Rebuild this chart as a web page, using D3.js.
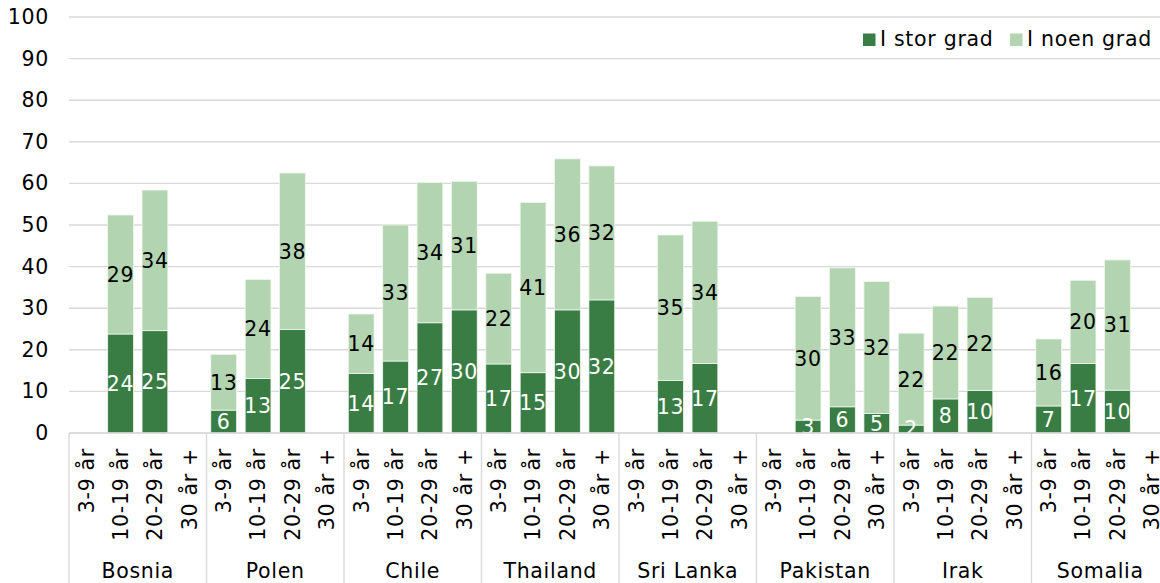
<!DOCTYPE html>
<html>
<head>
<meta charset="utf-8">
<script src="https://cdn.jsdelivr.net/npm/d3@7"></script>
<style>
  html, body { margin: 0; padding: 0; background: #fff; }
  svg { display: block; font-family: "DejaVu Sans", Verdana, sans-serif; }
  text { letter-spacing: 0.7px; }
</style>
</head>
<body>
<svg id="chart" width="1160" height="583"></svg>
<script>
const countries = ["Bosnia", "Polen", "Chile", "Thailand", "Sri Lanka", "Pakistan", "Irak", "Somalia"];
const ageGroups = ["3-9 år", "10-19 år", "20-29 år", "30 år +"];
const seriesNames = ["I stor grad", "I noen grad"];
// values per country, in ageGroups order (null = no bar)
const storGrad = [
  [null, 23.8, 24.6, null],
  [5.5, 13.1, 24.9, null],
  [14.3, 17.3, 26.5, 29.6],
  [16.6, 14.5, 29.6, 32.0],
  [null, 12.6, 16.7, null],
  [null, 3.1, 6.3, 4.7],
  [1.9, 8.2, 10.2, null],
  [6.5, 16.7, 10.3, null]
];
const noenGrad = [
  [null, 28.6, 33.8, null],
  [13.4, 23.8, 37.6, null],
  [14.3, 32.7, 33.7, 30.9],
  [21.8, 40.9, 36.3, 32.2],
  [null, 35.0, 34.2, null],
  [null, 29.7, 33.4, 31.7],
  [22.1, 22.3, 22.4, null],
  [16.1, 20.0, 31.3, null]
];
const yTicks = [0, 10, 20, 30, 40, 50, 60, 70, 80, 90, 100];

(function () {
const colors = ["#3a7d44", "#b3d4b1"];
const svg = d3.select("#chart");
const FONT = 20.5;

const pL = 69, pR = 1169, pT = 17, pB = 433;
const slots = [];
countries.forEach((c, ci) => ageGroups.forEach((a, ai) => slots.push({
  key: c + "|" + a, country: c, age: a,
  s: storGrad[ci][ai], n: noenGrad[ci][ai]
})));

const x = d3.scaleBand().domain(slots.map(d => d.key)).range([pL, pR]).paddingInner(0.25).paddingOuter(0.125);
const y = d3.scaleLinear().domain([0, 100]).range([pB, pT]);

// gridlines
svg.append("g").selectAll("line").data(yTicks).join("line")
  .attr("x1", pL).attr("x2", pR)
  .attr("y1", d => y(d)).attr("y2", d => y(d))
  .attr("stroke", "#d9d9d9").attr("stroke-width", 1.4);

// y axis labels
const yAxis = d3.axisLeft(y).tickValues(yTicks).tickSize(0).tickPadding(0);
const yg = svg.append("g").attr("transform", `translate(${pL - 20},0)`).call(yAxis);
yg.select(".domain").remove();
yg.selectAll("text").attr("font-size", FONT).attr("fill", "#000")
  .attr("font-family", "DejaVu Sans, Verdana, sans-serif");

// bars
const stackData = slots.map(d => ({ ...d, segs: [
  { v0: 0, v1: d.s ?? 0, val: d.s, i: 0 },
  { v0: d.s ?? 0, v1: (d.s ?? 0) + (d.n ?? 0), val: d.n, i: 1 }
]}));

svg.append("defs").append("clipPath").attr("id", "plotclip")
  .append("rect").attr("x", pL).attr("y", pT - 5).attr("width", pR - pL).attr("height", pB - pT + 5);

const barsG = svg.append("g");
stackData.forEach(d => {
  d.segs.forEach(seg => {
    if (seg.val == null) return;
    barsG.append("rect")
      .attr("x", x(d.key)).attr("width", x.bandwidth())
      .attr("y", y(seg.v1)).attr("height", y(seg.v0) - y(seg.v1))
      .attr("fill", colors[seg.i]).attr("stroke", "#eef5ee").attr("stroke-width", 0.8);
  });
});

// data labels
const labG = svg.append("g").attr("clip-path", "url(#plotclip)");
stackData.forEach(d => {
  d.segs.forEach(seg => {
    if (seg.val == null) return;
    labG.append("text")
      .attr("x", x(d.key) + x.bandwidth() / 2)
      .attr("y", y((seg.v0 + seg.v1) / 2))
      .attr("text-anchor", "middle").attr("dy", "0.36em")
      .attr("font-size", FONT)
      .attr("fill", seg.i === 0 ? "#fff" : "#000")
      .text(Math.round(seg.val));
  });
});

// baseline
svg.append("line").attr("x1", pL).attr("x2", pR).attr("y1", pB).attr("y2", pB)
  .attr("stroke", "#d9d9d9").attr("stroke-width", 1.4);

// age group labels (rotated)
const step = x.step();
svg.append("g").selectAll("text").data(slots).join("text")
  .attr("transform", d => `translate(${x(d.key) + x.bandwidth() / 2},448) rotate(-90)`)
  .attr("text-anchor", "end").attr("dy", "0.36em")
  .attr("font-size", FONT).attr("fill", "#000")
  .text(d => d.age);

// group separators and country labels
const groupW = step * ageGroups.length;
const sepXs = d3.range(countries.length + 1).map(i => pL + i * groupW);
svg.append("g").selectAll("line").data(sepXs).join("line")
  .attr("x1", d => d).attr("x2", d => d).attr("y1", pB).attr("y2", 583)
  .attr("stroke", "#d9d9d9").attr("stroke-width", 1.4);
svg.append("g").selectAll("text").data(countries).join("text")
  .attr("x", (d, i) => pL + (i + 0.5) * groupW)
  .attr("y", 578).attr("text-anchor", "middle")
  .attr("font-size", FONT).attr("fill", "#000").text(d => d);

// legend
const legend = svg.append("g");
const legX = [863, 1010];
seriesNames.forEach((name, i) => {
  legend.append("rect").attr("x", legX[i]).attr("y", 33.5).attr("width", 12.5).attr("height", 12.5).attr("fill", colors[i]);
  legend.append("text").attr("x", legX[i] + 17).attr("y", 46).attr("font-size", FONT).attr("fill", "#000").text(name);
});
})();
</script>
</body>
</html>
